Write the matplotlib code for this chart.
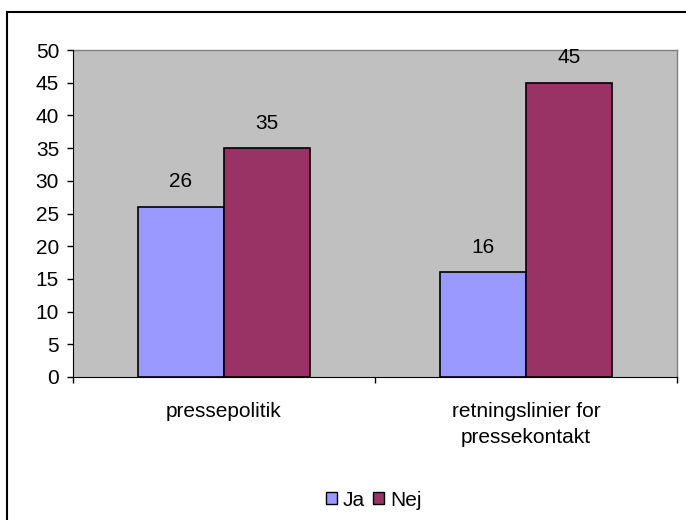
import matplotlib
matplotlib.use("Agg")
import matplotlib.pyplot as plt
import matplotlib.patches as mpatches
import numpy as np

categories = ["pressepolitik", "retningslinier for\npressekontakt"]
series_names = ["Ja", "Nej"]
ja_values = [26, 16]
nej_values = [35, 45]
y_ticks = [0, 5, 10, 15, 20, 25, 30, 35, 40, 45, 50]
colors = ["#9999FF", "#993366"]

plt.rcParams['font.family'] = ['Liberation Sans', 'DejaVu Sans']
fs = 15

fig = plt.figure(figsize=(6.86, 5.2), dpi=100)
W, H = 686, 520
ax = fig.add_axes([73 / W, 1 - 377 / H, (677 - 73) / W, (377 - 50) / H])
ax.set_facecolor("#C0C0C0")

x = np.arange(len(categories))
bw = 1 / 3.5
ax.bar(x - bw / 2, ja_values, bw, color=colors[0], edgecolor="black", linewidth=1.2, label=series_names[0], zorder=3)
ax.bar(x + bw / 2, nej_values, bw, color=colors[1], edgecolor="black", linewidth=1.2, label=series_names[1], zorder=3)

for xs, vals in [(x - bw / 2, ja_values), (x + bw / 2, nej_values)]:
    for xi, v in zip(xs, vals):
        ax.annotate(str(v), (xi, v), xytext=(0, 18), textcoords="offset points",
                    ha="center", va="center", fontsize=fs)

ax.set_xlim(-0.5, len(categories) - 0.5)
ax.set_ylim(0, 50)
ax.set_yticks(y_ticks)
ax.set_yticklabels([str(t) for t in y_ticks], fontsize=fs)
ax.tick_params(axis="y", direction="out", length=4, width=1, pad=6)

ax.set_xticks([-0.5, 0.5, 1.5])
ax.set_xticklabels([])
ax.tick_params(axis="x", direction="out", length=4, width=1)
for xi, c in zip(x, categories):
    ax.annotate(c, (xi, 0), xycoords=("data", "axes fraction"), xytext=(0, -18),
                textcoords="offset points", ha="center", va="top", fontsize=fs,
                linespacing=1.45)

for s in ["top", "right"]:
    ax.spines[s].set_color("#808080")
    ax.spines[s].set_linewidth(1)
ax.spines["left"].set_color("black")
ax.spines["bottom"].set_color("black")
ax.spines["left"].set_zorder(4)
ax.spines["bottom"].set_zorder(4)

handles = [mpatches.Patch(facecolor=colors[i], edgecolor="black", label=series_names[i]) for i in range(2)]
fig.legend(handles=handles, loc="center", bbox_to_anchor=(374 / W, 1 - 500 / H), ncol=2,
           frameon=False, fontsize=fs, handlelength=0.5, handleheight=0.5,
           handletextpad=0.3, columnspacing=0.4)

border = mpatches.Rectangle((7 / W, -0.1), 1.2, (1 - 12 / H) + 0.1, transform=fig.transFigure,
                            fill=False, edgecolor="black", linewidth=1.5)
fig.patches.append(border)

fig.savefig("out.png", dpi=100)
